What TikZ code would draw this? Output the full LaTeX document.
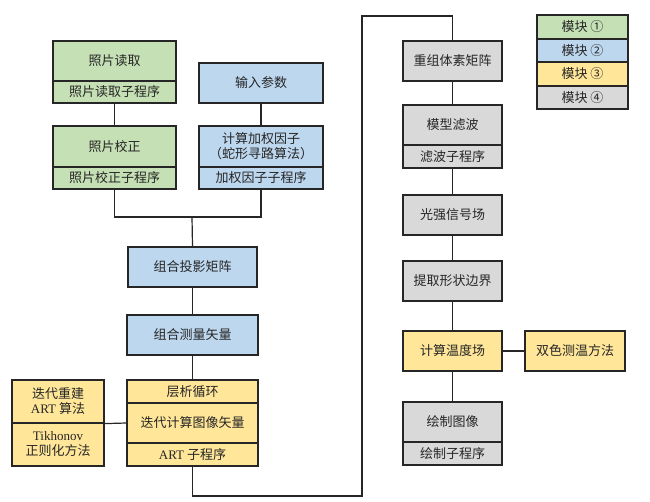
\documentclass[tikz,border=0pt]{standalone}
\usepackage{fontspec}
\setmainfont{Liberation Serif}
\newfontfamily\cjk{Noto Sans CJK SC}
\newcommand\lat[1]{{\rmfamily #1}}
\definecolor{mgreen}{HTML}{C5E0B4}
\definecolor{mblue}{HTML}{BDD7EE}
\definecolor{myellow}{HTML}{FFE699}
\definecolor{mgray}{HTML}{D9D9D9}
\definecolor{ink}{HTML}{262626}
\begin{document}
\begin{tikzpicture}[x=1pt,y=-1pt,
  box/.style={draw=ink, line width=1.2pt, inner sep=0pt, align=center,
    font=\cjk\fontsize{13}{15}\selectfont, text=ink},
  link/.style={draw=ink, line width=1.2pt}]
\useasboundingbox (0,0) rectangle (650,502);
% column A
\node[box, fill=mgreen, minimum width=123pt, minimum height=40pt] (a1) at (114.5,61) {照片读取};
\node[box, fill=mgreen, minimum width=123pt, minimum height=22pt] (a2) at (114.5,92) {照片读取子程序};
\node[box, fill=mgreen, minimum width=123pt, minimum height=41pt] (a3) at (114.5,146.5) {照片校正};
\node[box, fill=mgreen, minimum width=123pt, minimum height=22pt] (a4) at (114.5,178) {照片校正子程序};
% column B
\node[box, fill=mblue, minimum width=124pt, minimum height=40pt] (b1) at (261,83) {输入参数};
\node[box, fill=mblue, minimum width=124pt, minimum height=41pt] (b2) at (261,146.5) {计算加权因子\\（蛇形寻路算法）};
\node[box, fill=mblue, minimum width=124pt, minimum height=22pt] (b3) at (261,178) {加权因子子程序};
% column C
\node[box, fill=mblue, minimum width=129pt, minimum height=40pt] (c1) at (192.5,267) {组合投影矩阵};
\node[box, fill=mblue, minimum width=131pt, minimum height=40pt] (c2) at (192.5,335) {组合测量矢量};
\node[box, fill=myellow, minimum width=131pt, minimum height=23pt] (c3) at (192.5,391.5) {层析循环};
\node[box, fill=myellow, minimum width=131pt, minimum height=40pt] (c4) at (192.5,423) {迭代计算图像矢量};
\node[box, fill=myellow, minimum width=131pt, minimum height=23pt] (c5) at (192.5,454.5) {\lat{ART} 子程序};
% column D
\node[box, fill=myellow, minimum width=92pt, minimum height=43pt] (d1) at (58,401.5) {迭代重建\\\lat{ART} 算法};
\node[box, fill=myellow, minimum width=92pt, minimum height=43pt] (d2) at (58,444.5) {\lat{Tikhonov}\\正则化方法};
% column E
\node[box, fill=mgray, minimum width=99pt, minimum height=40pt] (e1) at (452.5,61) {重组体素矩阵};
\node[box, fill=mgray, minimum width=99pt, minimum height=40pt] (e2) at (452.5,125) {模型滤波};
\node[box, fill=mgray, minimum width=99pt, minimum height=23pt] (e3) at (452.5,156.5) {滤波子程序};
\node[box, fill=mgray, minimum width=99pt, minimum height=40pt] (e4) at (452.5,215) {光强信号场};
\node[box, fill=mgray, minimum width=99pt, minimum height=40pt] (e5) at (452.5,281) {提取形状边界};
\node[box, fill=myellow, minimum width=99pt, minimum height=40pt] (e6) at (452.5,351) {计算温度场};
\node[box, fill=myellow, minimum width=100pt, minimum height=40pt] (f1) at (575,351) {双色测温方法};
\node[box, fill=mgray, minimum width=99pt, minimum height=40pt] (e7) at (452.5,422) {绘制图像};
\node[box, fill=mgray, minimum width=99pt, minimum height=23pt] (e8) at (452.5,453.5) {绘制子程序};
% legend
\node[box, fill=mgreen, minimum width=91pt, minimum height=24pt] (l1) at (582.5,27) {模块 ①};
\node[box, fill=mblue, minimum width=91pt, minimum height=23pt] (l2) at (582.5,50.5) {模块 ②};
\node[box, fill=myellow, minimum width=91pt, minimum height=24pt] (l3) at (582.5,74) {模块 ③};
\node[box, fill=mgray, minimum width=91pt, minimum height=23pt] (l4) at (582.5,97.5) {模块 ④};
% connectors
\coordinate (m) at (192,217);
\coordinate (lowturn) at (362,496);
\coordinate (topturn) at (362,16);
\draw[link] (a2.south) -- (a3.north);
\draw[link] (b1.south) -- (b2.north);
\draw[link] (a4.south) -- (a4.south |- m) -- (b3.south |- m) -- (b3.south);
\draw[link] (m) -- (c1.north);
\draw[link] (c1.south) -- (c2.north);
\draw[link] (c2.south) -- (c3.north);
\draw[link] (d1.south east) -- (c4.west);
\draw[link] (c5.south) -- (c5.south |- lowturn) -- (lowturn) -- (topturn) -- (e1.north |- topturn) -- (e1.north);
\draw[link] (e1.south) -- (e2.north);
\draw[link] (e3.south) -- (e4.north);
\draw[link] (e4.south) -- (e5.north);
\draw[link] (e5.south) -- (e6.north);
\draw[link] (e6.east) -- (f1.west);
\draw[link] (e6.south) -- (e7.north);
\end{tikzpicture}
\end{document}
